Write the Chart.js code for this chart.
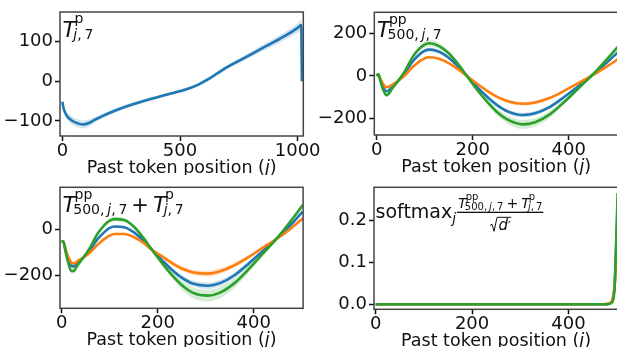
<!DOCTYPE html>
<html><head><meta charset="utf-8">
<script src="https://cdn.jsdelivr.net/npm/chart.js@4"></script>
<style>
html,body{margin:0;padding:0;background:#fff;overflow:hidden;}
#wrap{position:relative;width:617px;height:347px;overflow:hidden;background:#fff;}
canvas{position:absolute;}
</style></head><body>
<div id="wrap">
<canvas id="c1"></canvas><canvas id="c2"></canvas><canvas id="c3"></canvas><canvas id="c4"></canvas>
</div>
<script>
// ---------------- data ----------------
const X_TITLE = ["Past token position (", "j", ")"];

// panel 1: T^p_{j,7}
const J1 = [0,5,11,20,40,60,89,110,139,170,200,250,300,350,400,450,500,540,580,620,660,700,750,800,850,900,950,1000,1015,1018];
const P1_BLUE = [-52,-68,-78,-88,-99,-105,-109,-106,-97,-88,-80,-68,-58,-49,-41,-33,-25,-18,-8,5,20,35,51,67,83,99,115,134,141,0];
const P1_ERR  = [3,6,8,9,10,10,10,9,7,6,5,5,5,5,4,4,4,4,4,5,5,5,6,7,8,9,10,12,14,0];
const P1_XTICKS = [0,500,1000];
const P1_YTICKS = [-100,0,100];

// panels 2 and 3 share positions
const J23 = [0,3,8,13,20,25,32,45,52,60,75,90,100,110,130,150,170,188,210,230,250,275,305,330,360,390,420,440,447,460,480,502];

// panel 2: T^pp_{500,j,7}
const P2_BLUE   = [0,8,-20,-50,-72,-68,-50,-22,-5,18,68,104,119,124,114,86,44,0,-54,-98,-136,-169,-184,-176,-147,-100,-48,-13,0,24,64,110];
const P2_ORANGE = [0,7,-14,-36,-53,-50,-42,-22,-10,6,42,70,83,88,81,61,31,0,-38,-70,-97,-120,-131,-125,-104,-71,-34,-9,0,17,45,78];
const P2_GREEN  = [0,9,-25,-62,-90,-84,-60,-22,0,28,90,131,148,154,141,107,55,0,-67,-121,-168,-208,-228,-218,-182,-124,-59,-16,0,30,79,136];
const P2_BLUE_ERR   = [1,1,2,4,5,5,4,2,1,2,5,7,8,8,7,6,3,1,4,6,8,10,11,11,9,7,4,2,1,2,4,7];
const P2_ORANGE_ERR = [1,1,2,3,4,4,3,2,1,1,4,5,6,6,6,5,3,1,3,5,7,8,9,9,7,5,3,1,1,2,4,6];
const P2_GREEN_ERR  = [1,2,3,6,9,9,6,3,1,3,9,13,14,15,14,11,6,1,7,12,16,20,21,20,17,12,6,2,1,4,8,13];
const P2_XTICKS = [0,200,400];
const P2_YTICKS = [-200,0,200];

// panel 3: T^pp + T^p
const P3_BLUE   = [-53,-52,-90,-128,-158,-160,-146,-122,-106,-86,-42,-10,6,12,9,-12,-48,-88,-135,-175,-208,-235,-243,-232,-198,-147,-92,-55,-42,-16,25,76];
const P3_ORANGE = [-53,-53,-84,-115,-143,-147,-138,-122,-112,-98,-66,-40,-27,-20,-20,-33,-58,-88,-118,-146,-169,-186,-191,-181,-155,-119,-78,-52,-42,-24,8,47];
const P3_GREEN  = [-53,-51,-95,-140,-180,-180,-158,-122,-102,-76,-18,20,37,44,40,12,-36,-88,-148,-198,-240,-275,-286,-273,-232,-171,-103,-59,-42,-10,43,104];
const P3_BLUE_ERR   = [2,2,4,6,8,8,7,5,4,4,4,4,4,4,4,4,5,5,7,9,11,13,14,14,12,10,7,4,3,3,4,6];
const P3_ORANGE_ERR = [2,2,4,6,8,8,7,5,5,5,5,5,5,5,5,5,5,5,7,9,11,12,13,13,11,9,7,5,4,4,4,5];
const P3_GREEN_ERR  = [2,2,5,8,10,10,8,5,4,4,6,8,9,10,9,7,5,5,9,14,19,23,25,24,21,15,9,4,3,4,7,10];
const P3_XTICKS = [0,200,400];
const P3_YTICKS = [-200,0];

// panel 4: softmax
const J4 = [0,100,200,300,400,470,480,485,490,493,496,499,502];
const P4_BLUE   = [0,0,0,0,0,0,0,0.002,0.006,0.016,0.048,0.135,0.23];
const P4_ORANGE = [0,0,0,0,0,0,0.001,0.003,0.008,0.02,0.05,0.12,0.19];
const P4_GREEN  = [0,0,0,0,0,0,0,0.001,0.004,0.012,0.045,0.15,0.265];
const P4_XTICKS = [0,200,400];
const P4_YTICKS = [0,0.1,0.2];

// ---------------- helpers ----------------
const FONT = '"DejaVu Sans", sans-serif';
const C_BLUE = '#1f77b4', C_ORANGE = '#ff7f0e', C_GREEN = '#2ca02c';
const F_BLUE = 'rgba(31,119,180,0.2)', F_ORANGE = 'rgba(255,127,14,0.2)', F_GREEN = 'rgba(44,160,44,0.2)';

function pts(xs, ys, off, sign) {
  return xs.map((x, i) => ({x: x, y: ys[i] + (off ? sign * off[i] : 0)}));
}
function series(xs, ys, err, color, fill, order) {
  const out = [];
  if (err) {
    out.push({data: pts(xs, ys, err, -1), borderWidth: 0, pointRadius: 0, fill: false, order: 20, cubicInterpolationMode: 'monotone'});
    out.push({data: pts(xs, ys, err, 1), borderWidth: 0, pointRadius: 0, fill: '-1', backgroundColor: fill, order: 20, cubicInterpolationMode: 'monotone'});
  }
  out.push({data: pts(xs, ys), borderColor: color, borderWidth: 2.6, pointRadius: 0, fill: false, order: order, cubicInterpolationMode: 'monotone', borderCapStyle: 'butt'});
  return out;
}
function seq(ctx, x, y, arr, draw) {
  let w = 0;
  for (const p of arr) {
    ctx.font = (p.i ? 'italic ' : '') + p.s + 'px ' + FONT;
    w += (p.pre || 0);
    if (draw) ctx.fillText(p.t, x + w, y + (p.dy || 0));
    w += ctx.measureText(p.t).width + (p.k || 0);
  }
  return w;
}
function math(ctx, x, y, items, draw) {
  const x0 = x;
  for (const it of items) {
    if (it.sup || it.sub) {
      const sx = it.supX || 0, bx = it.subX || 0;
      const w1 = it.sup ? seq(ctx, x + sx, y + it.supY, it.sup, draw) + sx : 0;
      const w2 = it.sub ? seq(ctx, x + bx, y + it.subY, it.sub, draw) + bx : 0;
      x += Math.max(w1, w2);
    } else {
      x += seq(ctx, x, y, [it], draw);
    }
  }
  return x - x0;
}
function Tpp(s, ss) {
  return [{t: 'T', s: s, i: 1},
    {sup: [{t: 'pp', s: ss}], supY: -s * 0.6, supX: -s * 0.06,
     sub: [{t: '500,', s: ss, k: ss * 0.2}, {t: 'j', s: ss, i: 1}, {t: ',', s: ss, k: ss * 0.2}, {t: '7', s: ss}], subY: s * 0.12, subX: -s * 0.12}];
}
function Tp(s, ss) {
  return [{t: 'T', s: s, i: 1},
    {sup: [{t: 'p', s: ss}], supY: -s * 0.6, supX: -s * 0.06,
     sub: [{t: 'j', s: ss, i: 1}, {t: ',', s: ss, k: ss * 0.2}, {t: '7', s: ss}], subY: s * 0.12, subX: -s * 0.12}];
}

const framePlugin = {
  id: 'frame',
  afterDraw(chart, args, opts) {
    const ctx = chart.ctx, a = chart.chartArea;
    ctx.save();
    ctx.strokeStyle = '#444';
    ctx.lineWidth = 1.5;
    ctx.strokeRect(a.left, a.top, a.right - a.left, a.bottom - a.top);
    ctx.fillStyle = '#111';
    ctx.textBaseline = 'alphabetic';
    ctx.textAlign = 'left';
    const xt = [{t: X_TITLE[0], s: 17.5}, {t: X_TITLE[1], s: 17.5, i: 1}, {t: X_TITLE[2], s: 17.5}];
    const w = seq(ctx, 0, 0, xt, false);
    seq(ctx, (a.left + a.right) / 2 - w / 2, a.bottom + 37, xt, true);
    if (opts.title) opts.title(ctx, a);
    ctx.restore();
  }
};

function makeChart(id, c) {
  const cv = document.getElementById(id);
  cv.width = c.w; cv.height = c.h;
  cv.style.left = c.x + 'px'; cv.style.top = c.y + 'px';
  cv.style.width = c.w + 'px'; cv.style.height = c.h + 'px';
  const tickFont = {family: FONT, size: 18, lineHeight: 1};
  const grid = {display: true, drawOnChartArea: false, drawTicks: true, tickLength: 5, tickWidth: 1.5, tickColor: '#111', color: '#111'};
  return new Chart(cv, {
    type: 'line',
    data: {datasets: c.datasets},
    options: {
      responsive: false, animation: false, devicePixelRatio: 1, events: [],
      layout: {padding: {left: 0, top: c.area.t - c.y, right: c.x + c.w - c.area.r, bottom: 0}},
      plugins: {legend: {display: false}, tooltip: {enabled: false}, frame: {title: c.title}},
      scales: {
        x: {type: 'linear', min: c.xMin, max: c.xMax,
          grid: grid, border: {display: false},
          ticks: {font: tickFont, color: '#111', padding: 1, maxRotation: 0, callback: v => String(v)},
          afterBuildTicks: s => { s.ticks = c.xTicks.map(v => ({value: v})); },
          afterFit: s => { s.height = c.y + c.h - c.area.b; s.paddingLeft = 0; s.paddingRight = 0; }},
        y: {type: 'linear', min: c.yMin, max: c.yMax,
          grid: grid, border: {display: false},
          ticks: {font: tickFont, color: '#111', padding: 2, callback: c.yFmt},
          afterBuildTicks: s => { s.ticks = c.yTicks.map(v => ({value: v})); },
          afterFit: s => { s.width = c.area.l - c.x; s.paddingTop = 0; s.paddingBottom = 0; }}
      }
    },
    plugins: [framePlugin]
  });
}
const intFmt = v => (v < 0 ? '\u2212' + Math.abs(v) : String(v));

makeChart('c1', {
  x: 0, y: 0, w: 330, h: 175, area: {l: 60, t: 12, r: 303.3, b: 136},
  xMin: -10, xMax: 1024, yMin: -138, yMax: 174, xTicks: P1_XTICKS, yTicks: P1_YTICKS, yFmt: intFmt,
  datasets: series(J1, P1_BLUE, P1_ERR, C_BLUE, F_BLUE, 1),
  title: (ctx, a) => { math(ctx, a.left + 2.5, a.top + 24.5, Tp(22, 14), true); }
});
makeChart('c2', {
  x: 310, y: 0, w: 320, h: 175, area: {l: 374.3, t: 12.3, r: 618.1, b: 135},
  xMin: -5, xMax: 503, yMin: -278, yMax: 300, xTicks: P2_XTICKS, yTicks: P2_YTICKS, yFmt: intFmt,
  datasets: [].concat(
    series(J23, P2_BLUE, P2_BLUE_ERR, C_BLUE, F_BLUE, 3),
    series(J23, P2_ORANGE, P2_ORANGE_ERR, C_ORANGE, F_ORANGE, 2),
    series(J23, P2_GREEN, P2_GREEN_ERR, C_GREEN, F_GREEN, 1)),
  title: (ctx, a) => { math(ctx, a.left + 2.5, a.top + 24.5, Tpp(22, 14), true); }
});
makeChart('c3', {
  x: 0, y: 175, w: 330, h: 172, area: {l: 60, t: 187.3, r: 303.1, b: 308.3},
  xMin: -3.5, xMax: 503, yMin: -340.5, yMax: 181, xTicks: P3_XTICKS, yTicks: P3_YTICKS, yFmt: intFmt,
  datasets: [].concat(
    series(J23, P3_BLUE, P3_BLUE_ERR, C_BLUE, F_BLUE, 3),
    series(J23, P3_ORANGE, P3_ORANGE_ERR, C_ORANGE, F_ORANGE, 2),
    series(J23, P3_GREEN, P3_GREEN_ERR, C_GREEN, F_GREEN, 1)),
  title: (ctx, a) => {
    const items = [].concat(Tpp(22, 14), [{t: '+', s: 21, pre: 4, k: 4}], Tp(22, 14));
    math(ctx, a.left + 2.5, a.top + 24.5, items, true);
  }
});
makeChart('c4', {
  x: 310, y: 175, w: 320, h: 172, area: {l: 374, t: 187.3, r: 618.1, b: 309.3},
  xMin: -3.5, xMax: 503, yMin: -0.0119, yMax: 0.2786, xTicks: P4_XTICKS, yTicks: P4_YTICKS, yFmt: v => v.toFixed(1),
  datasets: [].concat(
    series(J4, P4_BLUE, null, C_BLUE, null, 3),
    series(J4, P4_ORANGE, null, C_ORANGE, null, 2),
    series(J4, P4_GREEN, null, C_GREEN, null, 1)),
  title: (ctx, a) => {
    const bx = a.left + 1.5, by = a.top + 31;
    let x = bx + seq(ctx, bx, by, [{t: 'softmax', s: 19}], true);
    x += seq(ctx, x, by + 5, [{t: 'j', s: 13.5, i: 1}], true) + 1;
    const num = [].concat(Tpp(14, 10), [{t: '+', s: 14, pre: 3, k: 3}], Tp(14, 10));
    const nw = math(ctx, 0, 0, num, false);
    math(ctx, x + 1, by - 10, num, true);
    const barW = nw + 2;
    ctx.fillRect(x, by - 6.6, barW, 1.3);
    const cx = x + barW / 2;
    const dItems = [{t: 'd', s: 15, i: 1}, {t: '\u2032', s: 12}];
    const dw = seq(ctx, 0, 0, dItems, false);
    const sqW = 8;
    const left = cx - (dw + sqW) / 2;
    const dby = by + 12;
    ctx.save();
    ctx.strokeStyle = '#111'; ctx.lineWidth = 1;
    ctx.beginPath();
    ctx.moveTo(left, dby - 5); ctx.lineTo(left + 2, dby - 6);
    ctx.lineTo(left + 4, dby + 1); ctx.lineTo(left + 7, dby - 13); ctx.lineTo(left + sqW + dw + 1, dby - 13);
    ctx.stroke();
    ctx.restore();
    seq(ctx, left + sqW + 0.5, dby, dItems, true);
  }
});
</script>
</body></html>
